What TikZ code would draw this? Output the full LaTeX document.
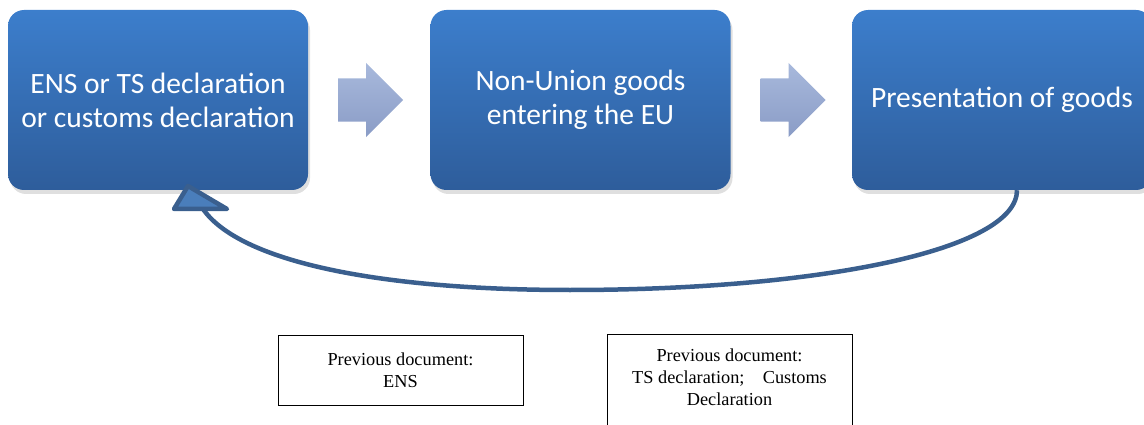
\documentclass[tikz,border=0pt]{standalone}
\usepackage{fontspec}
\setmainfont{Liberation Serif}
\newfontfamily\calib{Carlito}
\usetikzlibrary{shapes.arrows,shadows}
\definecolor{boxtop}{HTML}{3C7ECC}
\definecolor{boxbot}{HTML}{2E5D9B}
\definecolor{arrtop}{HTML}{A8B9DC}
\definecolor{arrbot}{HTML}{8A9CC6}
\definecolor{curvec}{HTML}{3A5F8E}
\definecolor{headfill}{HTML}{4A7EBB}
\tikzset{
  bluebox/.style={rectangle, rounded corners=16pt, minimum width=300pt, minimum height=180pt,
    top color=boxtop, bottom color=boxbot, draw=none, text=white, align=center,
    font=\calib\fontsize{29.5}{34}\selectfont,
    drop shadow={opacity=0.25, shadow xshift=2pt, shadow yshift=-4pt}},
  blockarrow/.style={single arrow, minimum height=65pt, minimum width=74pt,
    single arrow head extend=15.5pt, inner xsep=0pt, inner ysep=21.5pt, draw=none,
    top color=arrtop, bottom color=arrbot, shape border rotate=0, anchor=tail},
  notebox/.style={rectangle, draw=black, line width=0.8pt, align=center,
    font=\fontsize{18.3}{22}\selectfont, inner sep=0pt},
  backline/.style={draw=curvec, line width=4.5pt},
  backhead/.style={draw=curvec, fill=headfill, line width=4.5pt, line join=round}
}
\begin{document}
\begin{tikzpicture}[x=1pt,y=-1pt]
\useasboundingbox (0,0) rectangle (1144,425);
\node[bluebox] (b1) at (158,100) {ENS or TS declaration\\or customs declaration};
\node[bluebox] (b2) at (580.5,100) {Non-Union goods\\entering the EU};
\node[bluebox] (b3) at (1002,100) {Presentation of goods};
\node[blockarrow] (a1) at (338,100) {};
\node[blockarrow] (a2) at (760.5,100) {};
\coordinate (cs) at ([xshift=15pt]b3.south);
\coordinate (cm) at (570,290);
\coordinate (ce) at (203,209);
\draw[backline] (cs) .. controls (1017,250) and (820,290) .. (cm)
   .. controls (380,290) and (240,262) .. (ce);
\draw[backhead] (188,186) -- (174,209) -- (227,209) -- cycle;
\node[notebox, minimum width=245pt, minimum height=70pt] (n1) at (400.5,370)
  {Previous document:\\ENS};
\node[notebox, minimum width=245pt, minimum height=108pt] (n2) at (729.5,388)
  {Previous document:\\TS declaration;\quad Customs\\Declaration\\\mbox{}};
\end{tikzpicture}
\end{document}
